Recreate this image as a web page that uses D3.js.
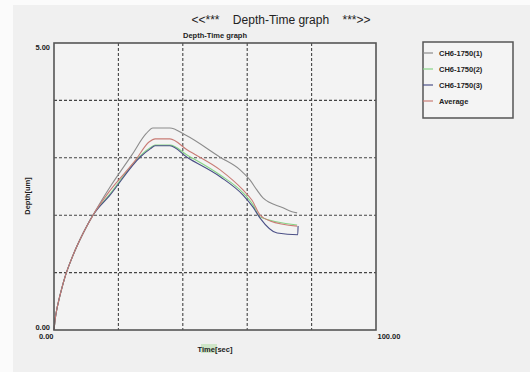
<!DOCTYPE html>
<html>
<head>
<meta charset="utf-8">
<script src="https://cdn.jsdelivr.net/npm/d3@7"></script>
<style>
  html, body { margin: 0; padding: 0; background: #fbfbfb; }
  svg { display: block; font-family: "Liberation Sans", Arial, sans-serif; }
</style>
</head>
<body>
<svg id="chart" width="530" height="372"></svg>
<script>
// Depth vs time for three indentation runs and their average
const seriesNames = ["CH6-1750(1)", "CH6-1750(2)", "CH6-1750(3)", "Average"];
const seriesColors = ["#8c8c8c", "#86d486", "#4a4f86", "#c97c76"];

// shared loading segment [time, depth]
const rising = [[0, 0], [0.3, 0.16], [0.8, 0.34], [1.5, 0.52], [2.4, 0.72], [3.4, 0.92],
  [5.9, 1.3], [9.0, 1.68], [12.1, 2.0]];

const run1 = [[17.4, 2.49], [24.2, 3.05], [28.6, 3.42], [30.7, 3.52], [36.0, 3.52],
  [40.7, 3.40], [51.6, 3.01], [57.8, 2.79], [60.9, 2.61], [63.0, 2.44], [64.9, 2.30],
  [71.1, 2.13], [73.9, 2.06], [75.5, 2.04]];
const run2 = [[17.4, 2.37], [26.7, 3.03], [30.0, 3.18], [31.4, 3.22], [36.0, 3.22],
  [41.3, 3.05], [51.6, 2.70], [58.7, 2.39], [61.8, 2.18], [64.0, 1.97], [75.5, 1.83]];
const run3 = [[17.4, 2.35], [26.7, 3.01], [30.0, 3.16], [31.4, 3.21], [36.0, 3.21],
  [41.3, 3.01], [51.6, 2.67], [58.7, 2.35], [61.8, 2.14], [64.0, 1.95], [69.3, 1.69],
  [75.7, 1.66], [75.8, 1.81]];
const average = [[17.4, 2.43], [25.2, 2.95], [29.6, 3.28], [31.4, 3.33], [36.0, 3.33],
  [41.3, 3.14], [51.6, 2.79], [58.7, 2.44], [61.5, 2.26], [64.0, 2.0], [67.1, 1.90],
  [75.5, 1.81]];

const xTicks = [0, 100];
const yTicks = [0, 5];
const xGrid = [20, 40, 60, 80];
const yGrid = [1, 2, 3, 4];

const svg = d3.select("#chart");
const W = 530, H = 372;
const plot = { left: 54, right: 376, top: 43, bottom: 330 };

// page backdrop
svg.append("rect").attr("x", 13).attr("y", 5).attr("width", W - 13).attr("height", H - 5)
  .attr("fill", "#f0f0f0");

const x = d3.scaleLinear().domain([0, 100]).range([plot.left, plot.right]);
const y = d3.scaleLinear().domain([0, 5]).range([plot.bottom, plot.top]);

// plot background
svg.append("rect").attr("x", plot.left).attr("y", plot.top)
  .attr("width", plot.right - plot.left).attr("height", plot.bottom - plot.top)
  .attr("fill", "#f3f3f3");

// dashed grid
svg.append("g").selectAll("line").data(xGrid).join("line")
  .attr("x1", d => x(d)).attr("x2", d => x(d))
  .attr("y1", plot.top).attr("y2", plot.bottom)
  .attr("stroke", "#444").attr("stroke-width", 1.1).attr("stroke-dasharray", "3,2");
svg.append("g").selectAll("line").data(yGrid).join("line")
  .attr("y1", d => y(d)).attr("y2", d => y(d))
  .attr("x1", plot.left).attr("x2", plot.right)
  .attr("stroke", "#444").attr("stroke-width", 1.1).attr("stroke-dasharray", "3,2");

// series
const line = d3.line().x(d => x(d[0])).y(d => y(d[1])).curve(d3.curveMonotoneX);
const allSeries = [run1, run2, run3, average].map(s => rising.concat(s));
svg.append("g").selectAll("path").data(allSeries).join("path")
  .attr("d", line)
  .attr("fill", "none")
  .attr("stroke", (d, i) => seriesColors[i])
  .attr("stroke-width", 1.1)
  .attr("stroke-linejoin", "round");

// frame
svg.append("rect").attr("x", plot.left).attr("y", plot.top)
  .attr("width", plot.right - plot.left).attr("height", plot.bottom - plot.top)
  .attr("fill", "none").attr("stroke", "#555").attr("stroke-width", 1.6);

// axes (end labels only)
const fmt = d3.format(".2f");
const yAxis = svg.append("g").attr("transform", `translate(${plot.left},0)`)
  .call(d3.axisLeft(y).tickValues(yTicks).tickSize(0).tickPadding(4).tickFormat(fmt));
yAxis.select(".domain").remove();
yAxis.selectAll("text")
  .attr("font-size", 7.5).attr("font-weight", "bold").attr("fill", "#222")
  .attr("font-family", "Liberation Sans, Arial, sans-serif")
  .attr("dy", d => d === 5 ? "0.9em" : "-0.05em");

const xAxis = svg.append("g").attr("transform", `translate(0,${plot.bottom})`)
  .call(d3.axisBottom(x).tickValues(xTicks).tickSize(0).tickPadding(4).tickFormat(fmt));
xAxis.select(".domain").remove();
xAxis.selectAll("text")
  .attr("font-size", 7.5).attr("font-weight", "bold").attr("fill", "#222")
  .attr("font-family", "Liberation Sans, Arial, sans-serif")
  .attr("text-anchor", d => d === 0 ? "end" : "start")
  .attr("dx", d => d === 0 ? "-1" : "1");

// titles
svg.append("text").attr("x", 281).attr("y", 24).attr("text-anchor", "middle")
  .attr("font-size", 12).attr("fill", "#222")
  .attr("xml:space", "preserve")
  .text("<<***    Depth-Time graph    ***>>");
svg.append("text").attr("x", (plot.left + plot.right) / 2).attr("y", 38)
  .attr("text-anchor", "middle").attr("font-size", 7.5).attr("font-weight", "bold")
  .attr("fill", "#222").text("Depth-Time graph");

// axis titles
svg.append("rect").attr("x", 201).attr("y", 344).attr("width", 16).attr("height", 9)
  .attr("fill", "#cfe6c8");
svg.append("text").attr("x", (plot.left + plot.right) / 2).attr("y", 352)
  .attr("text-anchor", "middle").attr("font-size", 7.5).attr("font-weight", "bold")
  .attr("fill", "#222").text("Time[sec]");
svg.append("text").attr("transform", `translate(30,196) rotate(-90)`)
  .attr("text-anchor", "middle").attr("font-size", 7.5).attr("font-weight", "bold")
  .attr("fill", "#222").text("Depth[um]");

// legend
const legend = svg.append("g").attr("transform", "translate(423,42)");
legend.append("rect").attr("width", 90).attr("height", 76)
  .attr("fill", "#f4f4f4").attr("stroke", "#555").attr("stroke-width", 1.5);
const items = legend.selectAll("g.item").data(seriesNames).join("g")
  .attr("class", "item")
  .attr("transform", (d, i) => `translate(0,${11 + i * 16})`);
items.append("line").attr("x1", 0).attr("x2", 10).attr("y1", 0).attr("y2", 0)
  .attr("stroke", (d, i) => seriesColors[i]).attr("stroke-width", 1.2);
items.append("text").attr("x", 16).attr("y", 0).attr("dy", "0.35em")
  .attr("font-size", 7.5).attr("font-weight", "bold").attr("fill", "#222")
  .text(d => d);
</script>
</body>
</html>
